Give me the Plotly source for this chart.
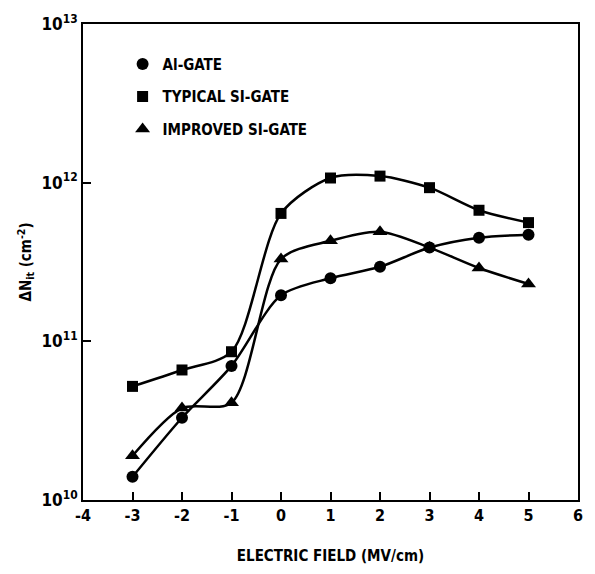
import plotly.graph_objects as go

field = [-3, -2, -1, 0, 1, 2, 3, 4, 5]
al_gate = [1.4e10, 3.3e10, 7.0e10, 1.95e11, 2.5e11, 2.95e11, 3.9e11, 4.5e11, 4.7e11]
typical_si = [5.2e10, 6.6e10, 8.6e10, 6.4e11, 1.07e12, 1.1e12, 9.3e11, 6.7e11, 5.6e11]
improved_si = [1.9e10, 3.8e10, 4.1e10, 3.3e11, 4.3e11, 4.9e11, 3.9e11, 2.9e11, 2.3e11]

x_ticks = [-4, -3, -2, -1, 0, 1, 2, 3, 4, 5, 6]
x_labels = ["-4", "-3", "-2", "-1", "0", "1", "2", "3", "4", "5", "6"]
y_ticks = [1e10, 1e11, 1e12, 1e13]
y_labels = ["10<sup>10</sup>", "10<sup>11</sup>", "10<sup>12</sup>", "10<sup>13</sup>"]
names = ["Al-GATE", "TYPICAL SI-GATE", "IMPROVED SI-GATE"]

FONT = "DejaVu Sans Condensed, Liberation Sans Narrow, sans-serif"

series = [
    (names[0], al_gate, "circle", 12),
    (names[1], typical_si, "square", 11),
    (names[2], improved_si, "triangle-up", 13),
]

fig = go.Figure()
for i, (name, vals, sym, sz) in enumerate(series):
    fig.add_trace(go.Scatter(
        x=field, y=vals, mode="lines", showlegend=False, hoverinfo="skip",
        line=dict(color="black", width=2.5, shape="spline", smoothing=0.8),
    ))
    fig.add_trace(go.Scatter(
        x=field, y=vals, name=f"<b>{name}</b>", mode="markers",
        marker=dict(symbol=sym, size=sz, color="black"),
        legendgroup=f"g{i}",
    ))

fig.update_layout(
    width=595, height=574,
    margin=dict(l=83, r=13, t=20, b=72),
    paper_bgcolor="white", plot_bgcolor="white",
    font=dict(family=FONT, color="black", size=15),
    showlegend=True,
    legend=dict(
        x=0.08, y=0.95, xanchor="left", yanchor="top",
        bgcolor="rgba(0,0,0,0)", font=dict(size=15, family=FONT),
        tracegroupgap=10, itemwidth=30,
    ),
    xaxis=dict(
        range=[-4, 6], tickvals=x_ticks, ticktext=[f"<b>{t}</b>" for t in x_labels],
        tickfont=dict(size=16),
        ticks="inside", ticklen=8, tickwidth=2, tickcolor="black",
        showline=True, linecolor="black", linewidth=2, mirror=True,
        showgrid=False, zeroline=False,
        title=dict(text="<b>ELECTRIC FIELD (MV/cm)</b>", standoff=26, font=dict(size=15)),
    ),
    yaxis=dict(
        type="log", range=[10, 13], tickvals=y_ticks,
        ticktext=[f"<b>{t}</b>" for t in y_labels],
        tickfont=dict(size=17),
        ticks="inside", ticklen=8, tickwidth=2, tickcolor="black",
        showline=True, linecolor="black", linewidth=2, mirror=True,
        showgrid=False, zeroline=False,
        title=dict(text="<b>ΔN<sub>it</sub> (cm<sup>-2</sup>)</b>", standoff=6, font=dict(size=15)),
    ),
)

fig.write_html("out.html")
